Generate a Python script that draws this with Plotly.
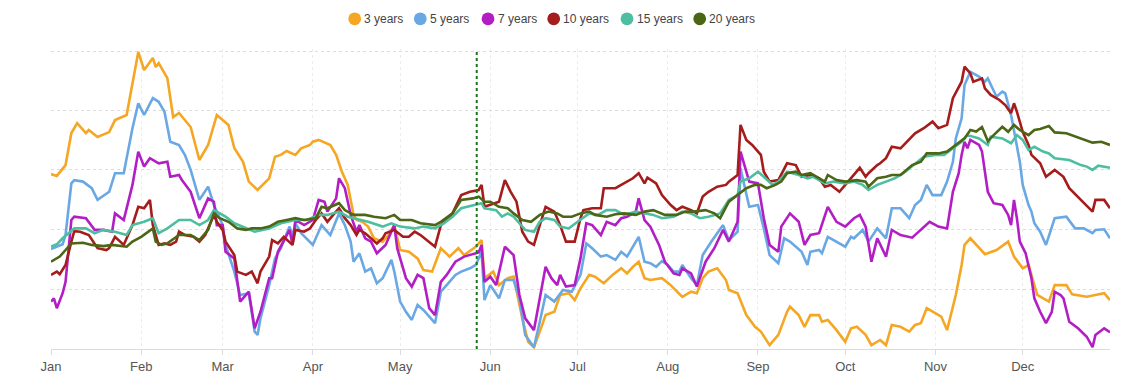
import pandas as pd
import plotly.graph_objects as go

# ---- data: (day of year offset from 1 Jan, index value) ----
START = "2023-01-01"
MARK_DATE = "2023-05-27 08:00"

series_names = ["3 years", "5 years", "7 years", "10 years", "15 years", "20 years"]
series_colors = ["#F5A623", "#6AA8E4", "#B21EC4", "#A51C1C", "#4DBEA0", "#4B6614"]

three_years = [(0,58.3),(2,57.7),(5,61.3),(7,72),(9,75.3),(12,72),(13,73),(16,70.7),(20,72.3),(22,76.3),(26,78),(30,99),(32,93),(35,97),(36,94),(37,95.3),(40,90.3),(42,77.3),(44,78.7),(46,76.3),(48,74),(51,63),(54,68),(57,78),(61,74.7),(63,67),(66,62.4),(68,55.8),(71,53),(75,56.9),(77,64.1),(79,64.7),(81,66),(84,64.7),(86,66.9),(89,68),(90,69.1),(92,69.7),(96,68),(98,64.7),(100,59.1),(102,54.7),(104,44.7),(105,43),(107,42.4),(109,40.8),(111,36.9),(114,35.8),(116,38),(118,41.3),(120,33),(123,32.4),(126,30.2),(128,26.3),(131,25.8),(134,33.6),(137,30.8),(140,33.6),(142,31.3),(146,34.1),(148,36.3),(149,23.6),(152,25.8),(154,21.3),(157,23.6),(159,24.1),(162,10.2),(164,2.4),(166,0.6),(168,5.8),(170,11.3),(173,12.4),(175,18),(178,18.6),(180,16.3),(182,20.2),(185,24.7),(187,24.1),(190,21.9),(193,24.7),(196,26.9),(198,25.2),(200,27.4),(202,29.1),(204,23.6),(206,23),(210,23.6),(213,21.3),(217,17.4),(220,19.1),(222,18.6),(224,23.6),(226,25.8),(229,26.9),(232,23),(233,19.7),(236,18.6),(239,11.3),(242,7.4),(244,5.8),(247,1.3),(250,4.7),(253,12.4),(254,14.1),(257,11.3),(259,7.4),(261,11.3),(264,11.3),(265,9.1),(267,9.7),(270,6.3),(273,2.4),(275,6.9),(277,7.4),(280,4.7),(282,1.3),(285,3),(287,1.3),(289,8),(292,7.4),(295,5.8),(297,8),(299,8.6),(301,13.6),(303,12.4),(306,10.8),(308,6.3),(310,13.6),(311,18),(313,28),(314,34.7),(316,36.9),(321,31.6),(325,33),(329,35.8),(331,30.8),(334,26.9),(336,28),(337,24.7),(339,18),(343,15.8),(345,21.3),(349,21.3),(351,18.2),(356,17.4),(362,18.6),(364,16.3)]

five_years = [(0,33.3),(4,34.9),(5,38),(7,55.2),(8,56.3),(11,55.8),(14,53.6),(16,49.7),(20,52.4),(22,58.6),(25,58.6),(28,73.6),(30,81.9),(32,78),(35,83.6),(37,82.4),(39,79.1),(41,69.1),(44,68),(46,64.7),(48,59.7),(51,49.7),(54,54.1),(56,48),(59,41.3),(60,34.7),(63,25.8),(65,18),(68,18.6),(70,5.8),(71,4.7),(72,10.2),(75,21.3),(77,30.2),(79,33.6),(82,40.8),(83,37.4),(84,41.9),(86,38.6),(90,34.7),(93,41.3),(95,39.1),(96,38),(99,45.2),(101,41.3),(103,35.8),(104,29.1),(106,31.9),(108,25.8),(110,26.9),(112,21.9),(114,23.6),(117,29.7),(118,25.8),(120,15.8),(122,12.4),(124,9.7),(126,14.7),(128,13),(132,8.6),(134,19.1),(136,21.3),(139,24.7),(141,25.8),(144,26.9),(146,28),(148,32.4),(149,16.3),(151,21.3),(154,16.9),(156,23),(159,23),(161,16.9),(163,4.7),(166,0.6),(168,9.1),(170,18),(173,15.8),(176,19.7),(179,19.1),(182,24.7),(184,35.2),(186,33.6),(189,30.8),(191,31.3),(194,29.7),(196,32.4),(198,30.8),(199,32.4),(202,37.4),(204,29.1),(206,28.6),(208,27.4),(210,29.3),(212,28),(214,25.8),(216,25.8),(217,28),(220,23.6),(222,21.3),(224,31.3),(227,35.8),(231,41.3),(233,36.3),(236,39.1),(237,60.2),(240,47.4),(243,48),(245,40.2),(247,31.3),(250,28.6),(252,36.9),(254,35.8),(258,32.4),(260,28),(261,32.4),(264,33),(265,31.9),(267,37.4),(269,36.3),(273,34.1),(275,37.4),(276,36.9),(279,39.7),(281,35.8),(284,40.2),(287,36.9),(289,46.9),(292,46.9),(295,43.6),(297,48),(299,49.7),(301,54.7),(303,51.3),(306,51.3),(308,55.8),(310,62.4),(311,70.2),(313,76.9),(314,88),(316,92.4),(319,90.8),(321,89.1),(322,90.2),(324,86.3),(325,84.1),(327,85.8),(328,85.2),(330,78),(331,72.4),(333,62.4),(334,54.7),(336,48),(337,45.8),(338,41.9),(340,39.1),(342,34.7),(345,43.6),(349,44.1),(352,40.2),(355,40.2),(358,38.6),(359,39.7),(362,39.9),(364,36.9)]

seven_years = [(0,15.8),(1,16.9),(2,13.6),(4,18.6),(5,22.4),(7,43),(8,44.1),(12,43.6),(15,39.7),(18,39.7),(21,39.1),(22,45.2),(25,43),(28,54.7),(30,65.8),(32,60.8),(34,63.6),(37,61.9),(40,62.4),(41,57.4),(44,58),(45,56.3),(48,52.4),(51,43.6),(54,50.2),(56,49.1),(57,41.3),(59,41.3),(60,32.4),(63,30.2),(65,15.8),(68,19.1),(70,6.9),(72,12.4),(75,23.6),(76,23.6),(78,32.4),(80,35.8),(82,39.7),(83,34.7),(84,43),(87,41.3),(90,43),(92,49.7),(94,49.1),(95,45.8),(98,50.2),(99,56.9),(101,53.6),(103,44.7),(105,39.1),(106,41.3),(108,36.9),(110,35.8),(112,31.9),(115,34.7),(118,41.3),(119,33.6),(122,23.6),(124,20.8),(126,24.7),(128,23.6),(130,13.6),(132,11.3),(134,22.4),(136,24.7),(139,29.1),(142,30.8),(145,31.6),(147,32.2),(148,34.7),(149,22.4),(151,24.1),(153,21.3),(156,34.1),(159,31.3),(161,18),(163,10.2),(166,6.3),(168,16.9),(170,27.4),(172,23.6),(174,21.3),(175,24.7),(177,20.8),(180,21.3),(182,30.2),(184,41.9),(186,41.3),(189,38),(191,42.4),(194,41.3),(196,43.6),(198,44.1),(201,45.8),(202,50.2),(204,43),(206,40.8),(209,34.7),(211,29.1),(214,25.2),(216,24.7),(217,26.9),(220,25.2),(222,20.8),(225,29.1),(228,33.6),(231,39.7),(233,35.8),(236,42.4),(237,65.8),(240,55.8),(243,55.2),(245,43.6),(247,34.7),(250,32.4),(251,40.8),(254,45.2),(257,42.4),(259,34.7),(261,38),(264,38.6),(267,47.4),(270,42.4),(273,40.8),(276,43.6),(278,44.7),(280,40.8),(282,29.1),(284,36.9),(287,30.8),(289,39.7),(292,38),(296,37.1),(299,39.7),(302,42.4),(305,40.8),(308,40.2),(310,52.4),(312,58.6),(313,64.7),(314,69.1),(315,66.9),(316,69.7),(319,68),(320,65.8),(322,52.4),(324,48.6),(327,48),(329,44.7),(330,41.3),(331,49.7),(332,43.6),(333,35.8),(335,31.9),(337,23.6),(338,16.9),(340,12.4),(342,8.6),(344,12.4),(345,19.1),(347,18),(348,16.9),(350,9.1),(353,6.9),(356,4.1),(358,0.6),(359,4.7),(362,6.9),(364,5.6)]

ten_years = [(0,24.7),(2,25.8),(3,24.9),(5,28),(7,35.8),(8,39.3),(10,39.1),(13,38),(16,33.6),(19,33),(20,33.6),(22,37.4),(25,34.7),(28,41.3),(30,47.4),(32,46.9),(34,49.7),(35,41.3),(37,34.7),(39,35.2),(41,34.7),(43,35.8),(44,39.1),(46,38),(49,37.4),(51,35.8),(53,38),(56,44.7),(57,42.4),(59,39.7),(60,35.8),(63,31.3),(64,25.8),(67,24.7),(69,25.8),(71,21.9),(72,25.8),(75,30.8),(76,36.3),(78,35.2),(80,37.4),(83,34.7),(84,39.7),(87,39.1),(89,40.2),(91,43),(93,45.2),(95,42.4),(97,44.7),(99,46.9),(101,43.6),(103,41.3),(105,38),(106,39.7),(108,38.6),(110,36.9),(112,35.2),(114,36.9),(115,38.6),(118,39.7),(121,37.4),(123,37.4),(125,39.1),(127,38),(130,35.8),(132,34.1),(134,41.3),(138,45.2),(141,51.3),(144,52.4),(147,53),(148,54.7),(149,47.4),(151,48),(154,49.1),(156,56.3),(158,52.4),(160,49.1),(162,39.1),(164,35.8),(166,34.7),(168,41.3),(170,47.4),(173,45.8),(175,41.3),(177,35.8),(180,35.8),(182,43.6),(183,46.3),(186,46.9),(189,46.9),(190,53.6),(194,53.6),(196,54.7),(198,55.8),(200,56.9),(202,58.6),(204,55.2),(205,57.1),(208,55.2),(210,51.3),(213,48),(215,46.3),(217,47.4),(220,46.3),(222,45.2),(224,50.8),(226,52.4),(229,54.1),(232,54.7),(233,55.8),(236,58),(237,74.7),(239,69.7),(241,68),(244,64.7),(245,59.1),(247,55.8),(250,56.3),(253,61.9),(256,61.3),(258,57.4),(261,58),(264,56.9),(266,54.1),(268,54.7),(271,52.4),(273,54.7),(276,58),(278,60.4),(280,57.4),(281,58.6),(284,61.3),(285,61.9),(287,63.6),(289,67.4),(292,66.9),(295,69.7),(297,71.9),(300,73.6),(303,75.8),(305,73.6),(308,74.7),(310,83.6),(312,87.4),(313,89.1),(314,94.1),(316,91.9),(317,89.1),(320,90.2),(321,86.9),(323,84.7),(326,83),(328,81.3),(330,78.6),(331,81.9),(332,79.1),(334,72.4),(336,68),(337,64.7),(340,61.9),(342,57.4),(345,59.7),(348,57.4),(350,53.6),(353,50.8),(356,48),(358,45.8),(359,49.7),(362,49.7),(364,46.9)]

fifteen_years = [(0,34.1),(2,34.9),(4,36.9),(8,40.2),(12,40.2),(15,38.6),(18,39.7),(22,39.1),(26,38),(28,41.3),(32,42.4),(35,43.6),(37,38.6),(40,40.2),(44,43),(48,43),(51,41.3),(54,43),(56,46.3),(60,44.1),(63,41.9),(67,40.2),(70,39.1),(75,40.2),(79,41.9),(84,43),(88,43),(92,44.7),(95,44.7),(99,45.8),(102,44.1),(104,43.6),(109,42.4),(114,40.8),(117,41.9),(120,40.8),(125,40.2),(128,40.8),(132,40.2),(135,41.9),(138,44.1),(141,46.9),(145,48),(148,48.6),(149,46.9),(153,46.3),(155,44.1),(157,45.2),(159,44.1),(163,39.7),(166,39.1),(168,42.4),(170,43.6),(173,43),(175,40.8),(178,40.2),(181,42.4),(185,45.2),(188,44.7),(191,46.3),(194,46.3),(197,44.7),(201,45.8),(204,45.2),(207,44.7),(210,43.6),(214,44.1),(217,45.8),(220,45.2),(223,43.6),(226,44.1),(230,45.2),(233,49.7),(236,51.3),(237,55.8),(240,56.9),(243,59.1),(245,57.4),(248,54.7),(250,55.8),(253,59.1),(257,58),(260,56.9),(262,57.4),(266,55.2),(269,55.8),(273,55.2),(276,55.8),(279,54.7),(281,53),(284,54.7),(287,55.8),(290,56.9),(293,58.6),(297,61.9),(300,64.1),(304,64.7),(307,64.7),(310,66.9),(313,69.1),(315,71.3),(317,70.8),(319,70.2),(322,68),(323,70.8),(327,70.2),(330,68.6),(332,71.3),(334,69.7),(336,66.3),(338,67.4),(341,65.8),(343,65.2),(345,63.6),(350,63),(354,61.3),(356,60.8),(358,59.7),(360,61.1),(364,60.4)]

twenty_years = [(0,29.1),(3,30.8),(5,33),(7,35.2),(11,35.4),(14,34.7),(18,34.3),(21,34.7),(26,34.1),(28,35.8),(31,37.4),(35,40.2),(36,35.8),(38,34.7),(40,35.2),(44,38),(48,38),(51,36.3),(54,39.7),(56,45.2),(58,43.6),(61,42.4),(64,40.2),(67,39.7),(69,40.2),(72,40.2),(75,40.8),(78,42.4),(81,43),(84,43.6),(87,43),(91,43.6),(93,47.4),(95,46.9),(99,48.6),(101,46.3),(104,44.7),(108,44.7),(111,44.1),(115,43.6),(118,44.7),(120,43),(124,43),(127,41.9),(132,41.3),(134,42.4),(138,45.2),(141,49.7),(145,50.2),(147,50.8),(149,49.1),(151,49.1),(154,47.4),(157,46.9),(159,45.2),(162,43),(165,42.4),(168,44.7),(171,45.8),(174,45.2),(176,44.1),(179,44.1),(182,45.2),(185,45.8),(187,44.7),(191,44.1),(194,44.9),(197,45.2),(201,44.7),(204,45.8),(207,46.3),(211,44.7),(215,44.7),(218,45.8),(221,45.8),(225,46.3),(228,45.2),(230,43.6),(233,49.1),(236,51.3),(239,53.6),(242,54.7),(244,54.7),(246,53.6),(249,54.7),(251,55.8),(253,58.6),(256,59.1),(258,58),(261,58.6),(264,56.9),(266,55.8),(267,58),(270,56.3),(273,55.8),(277,56.3),(280,55.8),(281,54.1),(284,56.9),(287,57.4),(289,58),(292,58),(296,61.3),(299,62.4),(301,65.2),(305,65.2),(308,65.8),(311,68),(314,70.2),(316,73),(318,72.5),(320,74),(322,69.3),(324,71.3),(327,74.1),(329,72.4),(331,74.7),(333,73),(336,71.3),(338,73),(340,73.3),(343,74.3),(345,72.2),(349,71.9),(352,70.8),(355,69.7),(358,68.8),(361,69.1),(364,68)]

all_series = [three_years, five_years, seven_years, ten_years, fifteen_years, twenty_years]

# gridline levels of the (unlabelled) value axis
grid_levels = [19.9, 39.8, 59.7, 79.5, 99.3]

# ---- figure ----
base = pd.Timestamp(START)
fig = go.Figure()
for name, color, data in zip(series_names, series_colors, all_series):
    days = [d for d, _ in data]
    vals = [v for _, v in data]
    fig.add_trace(go.Scatter(
        x=base + pd.to_timedelta(days, unit="D"), y=vals, name=name,
        mode="lines", line=dict(color=color, width=2.6), showlegend=False,
        hoverinfo="skip"))

# vertical dotted marker line
fig.add_shape(type="line", xref="x", yref="y", x0=MARK_DATE, x1=MARK_DATE,
              y0=0, y1=grid_levels[-1],
              line=dict(color="#1A781A", width=2, dash="dot"))

# custom legend: circle + label, centred above the plot
# (positions in page pixels; plot area spans x 51..1110, y 49..349)
PLOT_L, PLOT_W, PLOT_B, PLOT_H = 51, 1059, 349, 300
legend_centres = [354.7, 420.3, 488.0, 553.7, 627.0, 699.7]
legend_y = (PLOT_B - 18.8) / PLOT_H
for name, color, cx in zip(series_names, series_colors, legend_centres):
    xp = (cx - PLOT_L) / PLOT_W
    fig.add_shape(type="circle", xref="paper", yref="paper",
                  xsizemode="pixel", ysizemode="pixel",
                  xanchor=xp, yanchor=legend_y,
                  x0=-6.4, x1=6.4, y0=-6.4, y1=6.4,
                  fillcolor=color, line=dict(width=0))
    fig.add_annotation(xref="paper", yref="paper",
                       x=(cx + 7.5 - PLOT_L) / PLOT_W, y=legend_y,
                       xanchor="left", yanchor="middle", showarrow=False,
                       text=name, font=dict(size=12, color="#444"))

# the page body has an 8px margin, so the figure is 16px smaller than the window
fig.update_layout(
    width=1120, height=371,
    margin=dict(l=43, r=18, t=41, b=30),
    paper_bgcolor="white", plot_bgcolor="white",
    font=dict(family="Liberation Sans, Arial, sans-serif", color="#555"),
    showlegend=False,
    hovermode=False,
)
fig.update_xaxes(
    type="date", range=[START, "2023-12-31"], automargin=False,
    tickformat="%b", dtick="M1", tick0=START,
    ticks="outside", ticklen=5, tickcolor="#dcdcdc",
    showline=True, linecolor="#dcdcdc", linewidth=1,
    showgrid=True, gridcolor="#ececec", griddash="dot", gridwidth=1,
    tickfont=dict(size=13, color="#555"),
    zeroline=False,
)
fig.update_yaxes(
    range=[0, 100], tickvals=grid_levels, showticklabels=False, automargin=False,
    showgrid=True, gridcolor="#dddddd", griddash="dot", gridwidth=1,
    zeroline=False, showline=False, ticks="",
)

fig.write_html("out.html")
